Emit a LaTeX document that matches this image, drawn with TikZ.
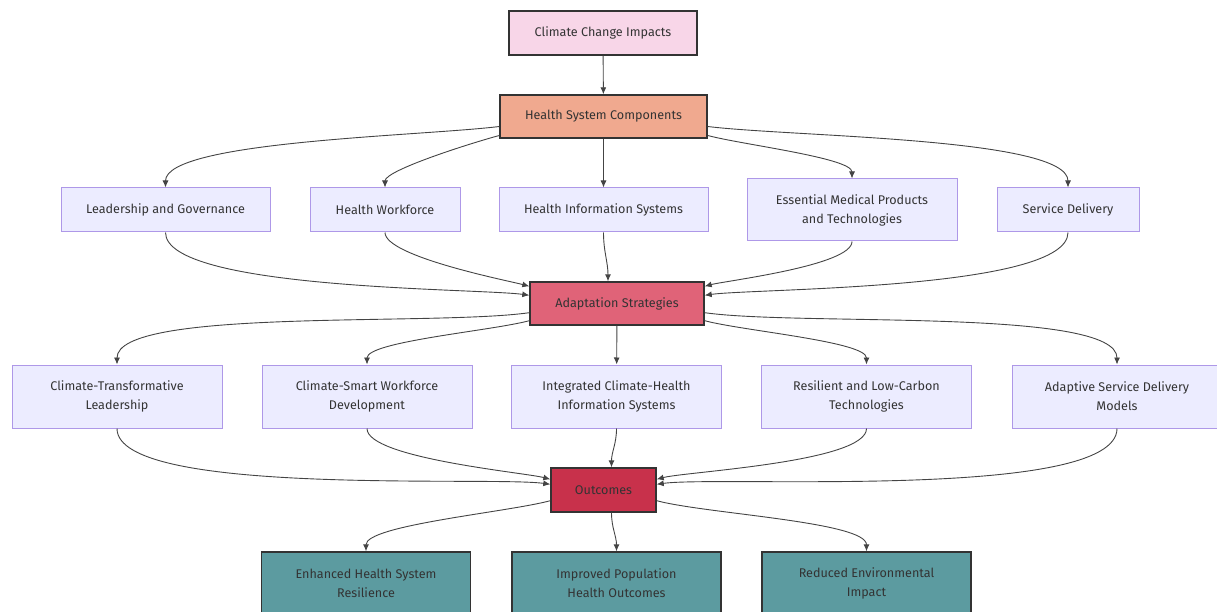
\documentclass[tikz,border=0pt]{standalone}
\usepackage{fontspec}
\setmainfont{Fira Sans}
\usetikzlibrary{arrows.meta}
\definecolor{txtgrey}{HTML}{333333}
\definecolor{edgegrey}{HTML}{333333}
\definecolor{linegrey}{HTML}{444444}
\definecolor{pinkfill}{HTML}{F8D6E8}
\definecolor{salmon}{HTML}{F0A98F}
\definecolor{rose}{HTML}{E06378}
\definecolor{crimson}{HTML}{C8314B}
\definecolor{tealfill}{HTML}{5C9BA0}
\definecolor{lilacfill}{HTML}{ECECFF}
\definecolor{lilacedge}{HTML}{AE98E8}

\begin{document}
\begin{tikzpicture}[x=1pt, y=-1pt,
    every node/.style={font=\fontsize{12.6}{19}\selectfont, text=txtgrey,
      align=center, inner sep=0pt},
    box/.style={draw=edgegrey, line width=1.4pt, minimum height=44pt},
    soft/.style={draw=lilacedge, fill=lilacfill, line width=1pt,
      minimum width=210pt, minimum height=63pt},
    link/.style={draw=linegrey, line width=.9pt,
      -{Latex[length=7pt,width=6pt]}},
    drop/.style={in=90, in looseness=.35, out looseness=.6},
    rise/.style={out=-90, out looseness=.4, in looseness=.35}]
  \useasboundingbox (0,0) rectangle (1217,612);

  % top
  \node[box, fill=pinkfill, minimum width=188pt] (cci) at (603,33)
    {Climate Change Impacts};
  \node[box, fill=salmon, minimum width=207pt, minimum height=43pt] (hsc)
    at (603.5,116.5) {Health System Components};

  % components
  \node[soft, minimum width=209pt, minimum height=44pt] (lead) at (165.5,210)
    {Leadership and Governance};
  \node[soft, minimum width=150pt, minimum height=44pt] (work) at (385,210)
    {Health Workforce};
  \node[soft, minimum width=209pt, minimum height=44pt] (info) at (603.5,210)
    {Health Information Systems};
  \node[soft, minimum height=62pt] (prod) at (852,210)
    {Essential Medical Products\\and Technologies};
  \node[soft, minimum width=142pt, minimum height=44pt] (serv) at (1068,210)
    {Service Delivery};

  \node[box, fill=rose, minimum width=174pt, minimum height=43pt] (adapt)
    at (617,303.5) {Adaptation Strategies};

  % strategies
  \node[soft] (ctl) at (117,396.5) {Climate-Transformative\\Leadership};
  \node[soft] (csw) at (367,396.5) {Climate-Smart Workforce\\Development};
  \node[soft] (ich) at (616.5,396.5)
    {Integrated Climate-Health\\Information Systems};
  \node[soft] (rlc) at (866.5,396.5) {Resilient and Low-Carbon\\Technologies};
  \node[soft] (asd) at (1117,396.5) {Adaptive Service Delivery\\Models};

  \node[box, fill=crimson, minimum width=105pt] (out) at (603.5,490)
    {Outcomes};

  % results
  \node[box, fill=tealfill, minimum width=209pt, minimum height=62pt] (ehs)
    at (366,583) {Enhanced Health System\\Resilience};
  \node[box, fill=tealfill, minimum width=209pt, minimum height=62pt] (ipo)
    at (616.5,583) {Improved Population\\Health Outcomes};
  \node[box, fill=tealfill, minimum width=209pt, minimum height=62pt] (rei)
    at (866.5,583) {Reduced Environmental\\Impact};

  \draw[link] (cci) -- (hsc);
  \draw[link] ([yshift=-10pt]hsc.west) to[out=187, drop] (lead);
  \draw[link] ([yshift=-19pt]hsc.west) to[out=195, drop] (work);
  \draw[link] (hsc) -- (info);
  \draw[link] ([yshift=-19pt]hsc.east) to[out=-15, drop] (prod);
  \draw[link] ([yshift=-10pt]hsc.east) to[out=-7, drop] (serv);

  \draw[link] (lead) to[rise, in=172] ([yshift=-14pt]adapt.north west);
  \draw[link] (work) to[rise, in=165] ([yshift=-5pt]adapt.north west);
  \draw[link] (info) to[out=-90, in=90] ([xshift=-9pt]adapt.north);
  \draw[link] (prod) to[rise, in=15] ([yshift=-5pt]adapt.north east);
  \draw[link] (serv) to[rise, in=8] ([yshift=-14pt]adapt.north east);

  \draw[link] ([yshift=13pt]adapt.south west) to[out=188, drop] (ctl);
  \draw[link] ([yshift=5pt]adapt.south west) to[out=195, drop] (csw);
  \draw[link] (adapt) -- (ich);
  \draw[link] ([yshift=5pt]adapt.south east) to[out=-15, drop] (rlc);
  \draw[link] ([yshift=13pt]adapt.south east) to[out=-8, drop] (asd);

  \draw[link] (ctl) to[rise, in=172] ([yshift=-17pt]out.north west);
  \draw[link] (csw) to[rise, in=165] ([yshift=-12pt]out.north west);
  \draw[link] (ich) to[out=-90, in=90] ([xshift=8pt]out.north);
  \draw[link] (rlc) to[rise, in=15] ([yshift=-12pt]out.north east);
  \draw[link] (asd) to[rise, in=8] ([yshift=-17pt]out.north east);

  \draw[link] ([yshift=12pt]out.south west) to[out=195, drop] (ehs);
  \draw[link] ([xshift=8pt]out.south) to[out=-90, in=90] (ipo);
  \draw[link] ([yshift=12pt]out.south east) to[out=-15, drop] (rei);
\end{tikzpicture}
\end{document}
